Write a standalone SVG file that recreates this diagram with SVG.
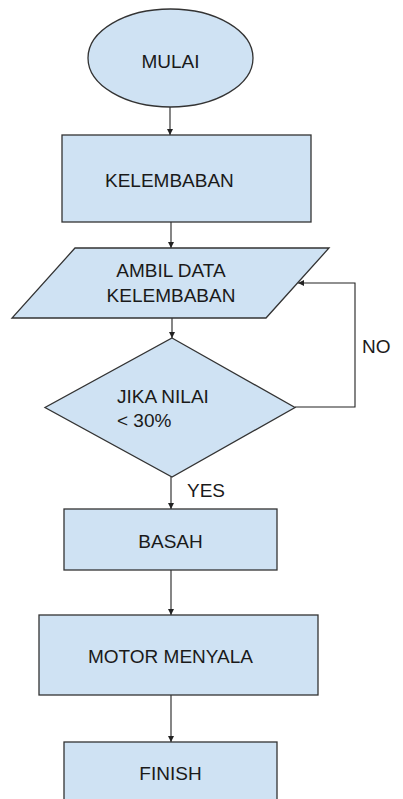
<svg xmlns="http://www.w3.org/2000/svg" width="403" height="799" viewBox="0 0 403 799">
<style>
.s{fill:#cfe2f3;stroke:#333;stroke-width:1.3}
.t{font-family:"Liberation Sans",Arial,sans-serif;font-size:19px;fill:#1a1a1a}
.c{text-anchor:middle}
.e{fill:none;stroke:#222;stroke-width:1.1}
</style>
<defs>
<marker id="a" viewBox="0 0 10 10" refX="10" refY="5" markerWidth="6" markerHeight="6" markerUnits="userSpaceOnUse" orient="auto">
<path d="M0,0 L10,5 L0,10 z" fill="#222"/>
</marker>
</defs>
<rect width="403" height="799" fill="#fff"/>
<g id="connectors">
<path class="e" d="M170,107 V135" marker-end="url(#a)"/>
<path class="e" d="M171,222 V248" marker-end="url(#a)"/>
<path class="e" d="M172,318 V338" marker-end="url(#a)"/>
<path class="e" d="M295,407 H355 V283 H298" marker-end="url(#a)"/>
<path class="e" d="M171,477 V509" marker-end="url(#a)"/>
<path class="e" d="M171,570 V615" marker-end="url(#a)"/>
<path class="e" d="M171,695 V742" marker-end="url(#a)"/>
<text class="t" x="362" y="353">NO</text>
<text class="t" x="187" y="497">YES</text>
</g>
<g id="mulai">
<ellipse class="s" cx="170.5" cy="58" rx="82.5" ry="49"/>
<text class="t c" x="170.5" y="68">MULAI</text>
</g>
<g id="kelembaban">
<rect class="s" x="62" y="135" width="249" height="87"/>
<text class="t" x="105" y="187">KELEMBABAN</text>
</g>
<g id="ambil-data">
<path class="s" d="M75,248 H329 L266,318 H12 Z"/>
<text class="t c" x="171" y="277">AMBIL DATA</text>
<text class="t c" x="171" y="302">KELEMBABAN</text>
</g>
<g id="jika">
<path class="s" d="M172,338 L295,407.5 L172,477 L45,407.5 Z"/>
<text class="t" x="117" y="403">JIKA NILAI</text>
<text class="t" x="117" y="427">&lt; 30%</text>
</g>
<g id="basah">
<rect class="s" x="64" y="509" width="213" height="61"/>
<text class="t c" x="170.5" y="548">BASAH</text>
</g>
<g id="motor">
<rect class="s" x="39" y="615" width="279" height="80"/>
<text class="t c" x="170.5" y="663">MOTOR MENYALA</text>
</g>
<g id="finish">
<rect class="s" x="64" y="742" width="213" height="70"/>
<text class="t c" x="170.5" y="780">FINISH</text>
</g>
</svg>
